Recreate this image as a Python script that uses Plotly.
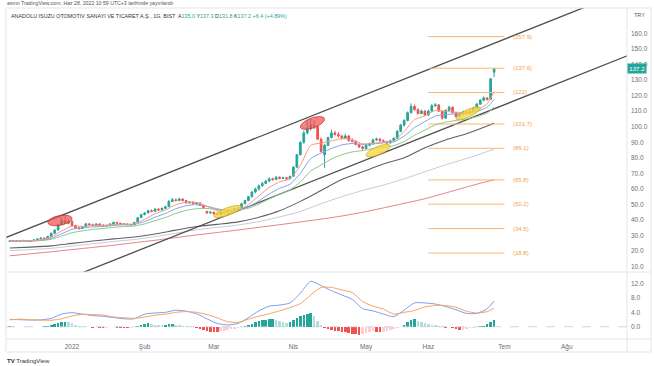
import math
import pandas as pd
import plotly.graph_objects as go

# ---------------- data ----------------
holidays = ["2022-05-02", "2022-05-03", "2022-05-04", "2022-05-19"]
future_holidays = ["2022-07-11", "2022-07-12", "2022-07-15"]
dates = [d.strftime("%Y-%m-%d") for d in pd.bdate_range("2021-12-08", "2022-06-28")
         if d.strftime("%Y-%m-%d") not in holidays]
future_days = [d.strftime("%Y-%m-%d") for d in pd.bdate_range("2022-06-29", "2022-09-30")
               if d.strftime("%Y-%m-%d") not in future_holidays]

open_ = [26.3, 26.5, 26.8, 26.3, 26.6, 26.9, 26.4, 26.8, 27.2, 27.8,
         28.4, 28.0, 29.5, 31.5, 33.6, 37.2, 39.6, 38.0, 39.2, 36.5,
         35.0, 34.6, 35.6, 37.5, 37.0, 36.5, 37.5, 36.8, 36.2, 36.5,
         37.5, 38.5, 38.0, 37.2, 37.5, 37.0, 36.8, 38.6, 41.6, 43.5,
         44.6, 46.0, 45.5, 47.0, 46.5, 47.5, 48.6, 52.0, 53.0, 52.5,
         53.5, 52.5, 51.0, 51.5, 50.5, 51.0, 49.5, 45.5, 44.5, 45.0,
         44.0, 43.5, 45.0, 44.5, 45.5, 46.0, 47.5, 48.0, 50.5, 52.5,
         55.0, 58.0, 60.0, 62.0, 63.5, 65.0, 66.5, 66.0, 67.5, 66.8,
         67.2, 66.5, 68.2, 74.0, 82.0, 90.0, 96.0, 99.0, 101.0, 100.0,
         92.0, 82.0, 88.0, 93.0, 96.0, 95.0, 94.0, 92.5, 94.0, 91.0,
         90.5, 88.5, 87.0, 86.0, 88.0, 89.0, 91.5, 92.0, 91.0, 90.5,
         89.5, 91.0, 92.5, 97.0, 101.0, 104.0, 109.0, 113.0, 111.0, 108.5,
         110.0, 107.5, 110.0, 113.5, 114.0, 110.0, 105.5, 110.5, 112.5, 109.0,
         106.5, 108.0, 109.5, 108.5, 110.0, 112.0, 114.5, 117.0, 118.5, 117.5,
         135.0]
high = [26.9, 27.0, 26.9, 26.8, 27.1, 27.0, 26.9, 27.4, 28.0, 28.7,
        28.8, 29.8, 31.9, 34.0, 37.5, 41.5, 42.5, 40.5, 40.0, 37.0,
        35.6, 36.0, 38.2, 38.0, 37.6, 37.9, 37.8, 37.1, 36.9, 37.8,
        38.9, 38.8, 38.2, 37.9, 37.7, 37.3, 38.8, 41.9, 44.0, 45.2,
        46.6, 46.8, 47.6, 47.5, 48.0, 49.2, 52.8, 54.2, 53.8, 54.3,
        53.9, 52.9, 52.0, 51.9, 51.6, 51.3, 49.9, 46.0, 45.8, 45.4,
        44.6, 45.4, 45.6, 46.0, 46.5, 47.9, 48.5, 51.0, 53.0, 55.6,
        58.6, 60.8, 62.8, 64.5, 65.8, 67.5, 67.2, 68.2, 68.0, 67.8,
        67.5, 68.6, 74.6, 82.5, 90.5, 97.5, 104.5, 105.5, 104.0, 101.0,
        93.0, 89.0, 93.5, 98.0, 97.5, 96.5, 94.8, 95.5, 94.6, 92.5,
        91.0, 89.2, 87.8, 88.6, 89.8, 92.3, 93.0, 92.6, 91.8, 91.0,
        91.6, 93.2, 97.8, 101.8, 104.8, 109.8, 115.0, 114.2, 111.8, 111.0,
        110.6, 110.8, 114.5, 115.2, 114.6, 110.4, 111.2, 113.5, 113.0, 109.5,
        108.6, 110.2, 110.0, 110.6, 112.8, 115.2, 117.8, 119.5, 119.0, 131.2,
        137.3]
low = [26.1, 26.3, 26.1, 26.2, 26.4, 26.2, 26.3, 26.6, 27.0, 27.6,
       27.7, 27.9, 29.3, 31.2, 33.4, 36.8, 37.5, 37.4, 36.0, 34.2,
       33.8, 34.2, 35.4, 36.6, 36.1, 36.3, 36.5, 35.9, 35.9, 36.3,
       37.3, 37.7, 36.9, 37.0, 36.8, 36.5, 36.7, 38.4, 41.2, 43.0,
       44.2, 45.0, 45.3, 46.0, 46.2, 47.2, 48.4, 51.5, 52.0, 52.2,
       52.0, 50.6, 50.7, 50.1, 50.2, 49.2, 47.6, 44.0, 44.2, 43.5,
       43.0, 43.3, 44.1, 44.3, 45.1, 45.8, 47.0, 47.8, 50.2, 52.2,
       54.6, 57.2, 59.0, 61.5, 63.0, 64.5, 65.3, 65.6, 66.2, 66.4,
       66.0, 66.3, 68.0, 73.5, 81.5, 89.0, 95.0, 97.5, 98.5, 91.5,
       83.5, 73.5, 87.5, 92.5, 94.2, 93.0, 91.8, 92.0, 90.5, 89.8,
       88.0, 86.2, 85.2, 85.6, 87.4, 88.6, 90.8, 90.4, 89.8, 88.8,
       89.2, 90.6, 92.2, 96.5, 100.2, 103.5, 108.5, 110.2, 107.8, 108.0,
       106.8, 107.0, 109.5, 112.8, 109.5, 104.5, 105.0, 110.0, 108.5, 105.8,
       106.0, 107.4, 107.8, 108.2, 109.6, 111.6, 114.0, 116.4, 116.8, 117.2,
       131.8]
close = [26.5, 26.8, 26.3, 26.6, 26.9, 26.4, 26.8, 27.2, 27.8, 28.4,
         28.0, 29.5, 31.5, 33.5, 37.0, 39.5, 38.0, 39.0, 36.5, 35.0,
         34.5, 35.5, 37.5, 37.0, 36.5, 37.5, 36.8, 36.2, 36.5, 37.5,
         38.5, 38.0, 37.2, 37.5, 37.0, 36.8, 38.5, 41.5, 43.5, 44.5,
         46.0, 45.5, 47.0, 46.5, 47.5, 48.5, 52.0, 53.0, 52.5, 53.5,
         52.5, 51.0, 51.5, 50.5, 51.0, 49.5, 48.0, 44.5, 45.0, 44.0,
         43.5, 45.0, 44.5, 45.5, 46.0, 47.5, 48.0, 50.5, 52.5, 55.0,
         58.0, 60.0, 62.0, 63.5, 65.0, 66.5, 66.0, 67.5, 66.8, 67.2,
         66.5, 68.0, 74.0, 82.0, 90.0, 96.0, 99.0, 101.0, 100.0, 92.0,
         84.0, 88.0, 93.0, 96.0, 95.0, 94.0, 92.5, 94.0, 91.0, 90.5,
         88.5, 87.0, 86.0, 88.0, 89.0, 91.5, 92.0, 91.0, 90.5, 89.5,
         91.0, 92.5, 97.0, 101.0, 104.0, 109.0, 113.0, 111.0, 108.5, 110.0,
         107.5, 110.0, 113.5, 114.0, 110.0, 105.5, 110.5, 112.5, 109.0, 106.5,
         108.0, 109.5, 108.5, 110.0, 112.0, 114.5, 117.0, 118.5, 117.5, 130.8,
         137.2]

# moving averages (read every 3rd / 6th bar + last bar)
ema_fast = [26.5, 26.6, 26.65, 27.3, 29.0, 33.0, 36.0, 36.0, 36.5, 36.6, 37.1, 37.4,
            37.5, 40.5, 44.0, 46.5, 49.8, 51.5, 51.2, 48.8, 46.0, 45.0, 46.3, 50.0,
            55.5, 61.0, 64.5, 66.5, 75.0, 88.0, 89.5, 90.8, 92.3, 91.8, 89.0, 89.3,
            90.3, 91.0, 97.0, 104.5, 107.0, 110.5, 109.8, 109.3, 109.0, 110.8, 114.8, 122.5]
ema_mid = [26.5, 26.55, 26.6, 27.0, 28.2, 31.2, 34.0, 34.9, 35.6, 35.9, 36.5, 36.9,
           37.2, 39.0, 41.8, 44.2, 47.3, 49.2, 49.9, 48.9, 47.2, 46.3, 46.6, 48.5,
           52.3, 56.8, 60.4, 63.0, 70.0, 79.5, 83.0, 86.0, 88.3, 89.2, 88.6, 88.9,
           89.6, 90.2, 94.0, 99.5, 103.3, 106.8, 107.8, 108.2, 108.4, 109.8, 112.6, 117.5]
ema_slow = [26.3, 26.4, 26.5, 26.8, 27.6, 29.7, 31.9, 33.0, 34.0, 34.6, 35.3, 35.8,
            36.2, 37.5, 39.6, 41.6, 44.2, 46.2, 47.3, 47.4, 46.8, 46.4, 46.5, 47.6,
            50.2, 53.6, 56.7, 59.3, 64.5, 71.5, 75.4, 79.2, 82.0, 83.8, 84.7, 85.9,
            87.0, 87.8, 90.5, 94.5, 97.8, 101.2, 102.9, 104.0, 104.9, 106.5, 108.8, 112.6]
ema_50 = [22.0, 22.6, 23.4, 25.0, 26.5, 27.9, 29.1, 31.0, 33.5, 35.8, 37.2, 38.8,
          41.8, 46.0, 52.0, 59.0, 66.0, 71.0, 76.0, 80.0, 86.5, 91.5, 95.5, 100.5, 102.3]
ema_100 = [20.3, 21.0, 21.8, 23.3, 24.8, 26.2, 27.5, 29.3, 31.5, 33.7, 35.3, 36.8,
           39.0, 42.0, 45.5, 50.5, 55.0, 59.0, 62.5, 66.5, 71.0, 75.5, 79.5, 84.0, 85.5]
ema_200 = [17.0, 18.3, 19.6, 21.0, 22.4, 23.8, 25.4, 27.0, 28.7, 30.4, 32.0, 33.6,
           35.3, 37.0, 38.8, 40.6, 42.6, 45.0, 47.8, 50.7, 53.7, 57.4, 61.2, 64.8, 65.8]

# MACD (12,26,9): MACD line every 3rd bar + last, histogram every bar
macd_line = [2.05, 1.95, 1.85, 1.9, 2.3, 3.5, 3.9, 3.5, 3.1, 2.9, 2.55, 2.2,
             2.2, 3.5, 3.8, 4.0, 4.6, 4.3, 3.6, 2.2, 0.9, 0.5, 0.9, 2.5,
             4.4, 5.7, 6.0, 6.6, 9.3, 12.6, 11.4, 10.0, 8.8, 7.6, 5.0, 4.4,
             3.5, 2.8, 4.6, 6.6, 6.6, 6.3, 5.6, 4.7, 3.7, 3.7, 5.0, 7.1]
macd_hist = [0.15, 0.1, -0.1, -0.15, -0.1, 0.05, -0.1, -0.2, -0.15, 0.05, 0.1,
             0.3, 0.5, 0.7, 1.0, 1.3, 1.4, 1.2,
             0.9, 0.5, 0.2, 0.05,
             -0.15, -0.2, -0.25, -0.2, -0.3, -0.35, -0.3, -0.2, -0.15, -0.25, -0.3, -0.3, -0.35, -0.3, -0.1,
             0.3, 0.6, 0.8, 0.9,
             0.8, 0.6, 0.5, 0.4,
             0.5, 0.7, 0.8,
             0.6, 0.4, 0.3, 0.1, 0.05,
             -0.2, -0.4, -0.6, -0.9, -1.2, -1.4, -1.5, -1.55,
             -1.3, -1.1, -0.9, -0.7, -0.5, -0.3, -0.1, 0.1,
             0.4, 0.8, 1.2, 1.5, 1.8, 2.0, 2.1, 2.15, 1.9, 1.6, 1.3, 1.1, 1.3, 1.8, 2.4, 2.9,
             3.3, 3.6, 3.8, 3.0, 1.6, 0.5, -0.3,
             -0.6, -0.9, -1.1, -1.3, -1.4, -1.5, -1.7, -1.9, -2.1, -2.2, -2.0,
             -1.8, -1.5, -1.3, -1.4, -1.5, -1.4, -1.1, -0.9, -0.7, -0.4, -0.1,
             0.6, 1.3, 1.9, 2.1,
             1.7, 1.4, 1.1, 0.8, 0.6, 0.4, 0.1,
             -0.1, -0.3, -0.2, -0.4, -0.7, -0.9, -0.8, -0.6, -0.4, -0.3, -0.1, 0.1, 0.3, 0.8, 1.4, 2.0]

# drawings
channel_upper = [("2021-12-08", 29.7), ("2022-06-28", 153.6)]
channel_lower = [("2022-03-07", 43.3), ("2022-06-28", 111.5)]
ellipses = [  # (date1, price1, date2, price2, half height, kind)
    ("2021-12-23", 38.5, "2022-01-03", 41.0, 3.2, "red"),
    ("2022-04-05", 100.0, "2022-04-14", 104.8, 3.4, "red"),
    ("2022-03-01", 42.6, "2022-03-11", 48.4, 2.6, "yellow"),
    ("2022-05-05", 81.7, "2022-05-16", 87.5, 2.9, "yellow"),
    ("2022-06-13", 105.4, "2022-06-22", 111.8, 2.6, "yellow"),
]
fib_levels = [157.9, 137.6, 122.0, 101.7, 86.1, 65.8, 50.2, 34.5, 18.8]
fib_labels = ["(157.9)", "(137.6)", "(122)", "(101.7)", "(86.1)", "(65.8)", "(50.2)", "(34.5)", "(18.8)"]
fib_span = ("2022-06-01", "2022-07-01")
fib_label_date = "2022-07-05"

month_ticks = ["2022-01-03", "2022-02-01", "2022-03-01", "2022-04-01",
               "2022-05-05", "2022-06-01", "2022-07-01", "2022-08-01"]
month_labels = ["2022", "Şub", "Mar", "Nis", "May", "Haz", "Tem", "Ağu"]
price_ticks = [10, 20, 30, 40, 50, 60, 70, 80, 90, 100, 110, 120, 130, 140, 150, 160]
macd_ticks = [0, 4, 8, 12]

# ---------------- helpers ----------------
all_days = dates + future_days
pos = {d: k for k, d in enumerate(all_days)}
X = [pos[d] for d in dates]
short_idx = list(range(0, len(dates), 3)) + [len(dates) - 1]
long_idx = list(range(0, len(dates), 6)) + [len(dates) - 1]

FONT = "Liberation Sans, Arial, sans-serif"
GREEN, RED = "#26a69a", "#ef5350"

fig = go.Figure()

# long moving averages
for vals, col, w in [(ema_200, "#e88080", 1.0), (ema_100, "#c3ccd6", 1.0), (ema_50, "#606060", 1.1)]:
    fig.add_trace(go.Scatter(x=[X[k] for k in long_idx], y=vals, mode="lines",
                             line=dict(color=col, width=w, shape="spline", smoothing=0.7),
                             xaxis="x", yaxis="y", hoverinfo="skip"))


# channel lines (extended trend lines)
def ext_line(anchors):
    (d1, p1), (d2, p2) = anchors
    x1, x2 = pos[d1], pos[d2]
    s = (p2 - p1) / (x2 - x1)
    xa, xb = -5, 200
    return [xa, xb], [p1 + s * (xa - x1), p1 + s * (xb - x1)]


for anc in (channel_upper, channel_lower):
    lx, ly = ext_line(anc)
    fig.add_trace(go.Scatter(x=lx, y=ly, mode="lines", line=dict(color="#4d4d4d", width=1.3),
                             xaxis="x", yaxis="y", hoverinfo="skip"))

# fib levels
f0, f1 = pos[fib_span[0]], pos[fib_span[1]]
for lv, lb in zip(fib_levels, fib_labels):
    fig.add_trace(go.Scatter(x=[f0, f1], y=[lv, lv], mode="lines",
                             line=dict(color="#f7b774", width=1), xaxis="x", yaxis="y", hoverinfo="skip"))
    fig.add_annotation(x=pos[fib_label_date], y=lv, xref="x", yref="y", text=lb, showarrow=False,
                       xanchor="left", yanchor="middle", font=dict(family=FONT, size=6, color="#f0a050"))

# candles
fig.add_trace(go.Candlestick(x=X, open=open_, high=high, low=low, close=close,
                             increasing=dict(line=dict(color=GREEN, width=1), fillcolor=GREEN),
                             decreasing=dict(line=dict(color=RED, width=1), fillcolor=RED),
                             whiskerwidth=0, xaxis="x", yaxis="y", hoverinfo="skip"))

# short moving averages
for vals, col in [(ema_slow, "#8cc68c"), (ema_mid, "#7ea6ee"), (ema_fast, "#f59a7a")]:
    fig.add_trace(go.Scatter(x=[X[k] for k in short_idx], y=vals, mode="lines",
                             line=dict(color=col, width=1, shape="spline", smoothing=0.6),
                             xaxis="x", yaxis="y", hoverinfo="skip"))

# ellipses
for d1, p1, d2, p2, h, kind in ellipses:
    x1, x2 = pos[d1], pos[d2]
    cx, cy = (x1 + x2) / 2, (p1 + p2) / 2
    ux, uy = (x2 - x1) / 2, (p2 - p1) / 2
    ts = [2 * math.pi * k / 60 for k in range(61)]
    ex = [cx + ux * math.cos(t) for t in ts]
    ey = [cy + uy * math.cos(t) + h * math.sin(t) for t in ts]
    if kind == "red":
        fc, lc = "rgba(239,83,80,0.72)", "rgba(200,40,40,0.9)"
    else:
        fc, lc = "rgba(246,214,60,0.78)", "rgba(200,170,20,0.9)"
    fig.add_trace(go.Scatter(x=ex, y=ey, mode="lines", fill="toself", fillcolor=fc,
                             line=dict(color=lc, width=0.8), xaxis="x", yaxis="y", hoverinfo="skip"))

# MACD pane
hist_cols = []
for k, h in enumerate(macd_hist):
    prev = macd_hist[k - 1] if k > 0 else 0
    if h >= 0:
        hist_cols.append(GREEN if h >= prev else "#b2dfdb")
    else:
        hist_cols.append("#ffcdd2" if h > prev else RED)
fig.add_trace(go.Bar(x=X, y=macd_hist, marker=dict(color=hist_cols, line=dict(width=0)),
                     width=0.75, xaxis="x2", yaxis="y2", hoverinfo="skip"))
sx = [X[k] for k in short_idx]
signal_line = [m - macd_hist[k] for m, k in zip(macd_line, short_idx)]
fig.add_trace(go.Scatter(x=sx, y=macd_line, mode="lines",
                         line=dict(color="#7b9df2", width=1, shape="spline", smoothing=0.6),
                         xaxis="x2", yaxis="y2", hoverinfo="skip"))
fig.add_trace(go.Scatter(x=sx, y=signal_line, mode="lines",
                         line=dict(color="#f5a462", width=1, shape="spline", smoothing=0.6),
                         xaxis="x2", yaxis="y2", hoverinfo="skip"))

# ---------------- layout ----------------
W, H = 654, 366
L, R, T, B = 6, 27, 8, 27
pw, ph = W - L - R, H - T - B


def px(xp):
    return (xp - L) / pw


def py(yp):
    return 1 - (yp - T) / ph


xr = [-1.07, -1.07 + pw / 3.46]
axis_font = dict(family=FONT, size=6.5, color="#6a6d78")
fig.update_layout(
    width=W, height=H, margin=dict(l=L, r=R, t=T, b=B, autoexpand=False),
    paper_bgcolor="white", plot_bgcolor="white", showlegend=False, hovermode=False,
    bargap=0,
    xaxis=dict(domain=[0, 1], range=xr, anchor="y", showticklabels=False, showgrid=False,
               zeroline=False, rangeslider=dict(visible=False), fixedrange=True),
    yaxis=dict(domain=[py(272), 1], range=[6.6, 176.3], side="right", tickvals=price_ticks,
               ticktext=[f"{v:.1f}" for v in price_ticks], showgrid=False, zeroline=False,
               tickfont=axis_font, ticks="", ticklen=0, ticklabelstandoff=3, automargin=False),
    xaxis2=dict(domain=[0, 1], range=xr, anchor="y2", matches="x", showgrid=False, zeroline=False,
                tickvals=[pos[d] for d in month_ticks], ticktext=month_labels, ticks="", ticklen=0,
                tickfont=axis_font, ticklabelstandoff=2, automargin=False),
    yaxis2=dict(domain=[0, py(273)], range=[-3.4, 14.9], side="right", tickvals=macd_ticks,
                ticktext=[f"{v:.1f}" for v in macd_ticks], showgrid=False, zeroline=False,
                tickfont=axis_font, ticks="", ticklen=0, ticklabelstandoff=3, automargin=False),
)

border = "#e3e5ea"
shapes = [
    dict(type="rect", xref="paper", yref="paper", x0=px(6), x1=px(651), y0=py(352), y1=py(8),
         line=dict(color=border, width=1)),
    dict(type="line", xref="paper", yref="paper", x0=1, x1=1, y0=py(352), y1=py(8),
         line=dict(color=border, width=1)),
    dict(type="line", xref="paper", yref="paper", x0=0, x1=px(651), y0=py(272), y1=py(272),
         line=dict(color=border, width=1)),
    dict(type="line", xref="paper", yref="paper", x0=0, x1=px(651), y0=0, y1=0,
         line=dict(color=border, width=1)),
    dict(type="line", xref="paper", yref="y2", x0=0, x1=1, y0=0, y1=0,
         line=dict(color="#c8cbd2", width=0.8, dash="dash")),
]
fig.update_layout(shapes=shapes)

ann = [
    dict(x=px(5), y=py(3), xref="paper", yref="paper", xanchor="left", yanchor="middle", showarrow=False,
         text="asmn TradingView.com, Haz 28, 2022 10:59 UTC+3 tarihinde yayınlandı",
         font=dict(family=FONT, size=5.2, color="#555")),
    dict(x=px(9), y=py(16), xref="paper", yref="paper", xanchor="left", yanchor="middle", showarrow=False,
         text=("ANADOLU ISUZU OTOMOTIV SANAYI VE TICARET A.Ş., 1G, BIST  "
               "A<span style='color:#26a69a'>135.0</span> Y<span style='color:#26a69a'>137.3</span> "
               "D<span style='color:#26a69a'>131.8</span> K<span style='color:#26a69a'>137.2</span> "
               "<span style='color:#26a69a'>+6.4 (+4.89%)</span>"),
         font=dict(family=FONT, size=5.4, color="#333")),
    dict(x=px(632), y=py(15), xref="paper", yref="paper", xanchor="left", yanchor="middle", showarrow=False,
         text="TRY", font=dict(family=FONT, size=5.5, color="#555")),
    dict(x=1.0, y=close[-1], xref="paper", yref="y", xanchor="left", yanchor="middle", showarrow=False,
         text=f"{close[-1]:.1f}", bgcolor=GREEN, borderpad=1.2,
         font=dict(family=FONT, size=6.2, color="white")),
    dict(x=px(5), y=py(361), xref="paper", yref="paper", xanchor="left", yanchor="middle", showarrow=False,
         text="<b>TV</b> TradingView", font=dict(family=FONT, size=6, color="#333")),
]
fig.update_layout(annotations=list(fig.layout.annotations) + ann)

fig.write_html("out.html", config={"displayModeBar": False, "staticPlot": True},
               post_script="document.body.style.margin='0';document.body.style.padding='0';")
